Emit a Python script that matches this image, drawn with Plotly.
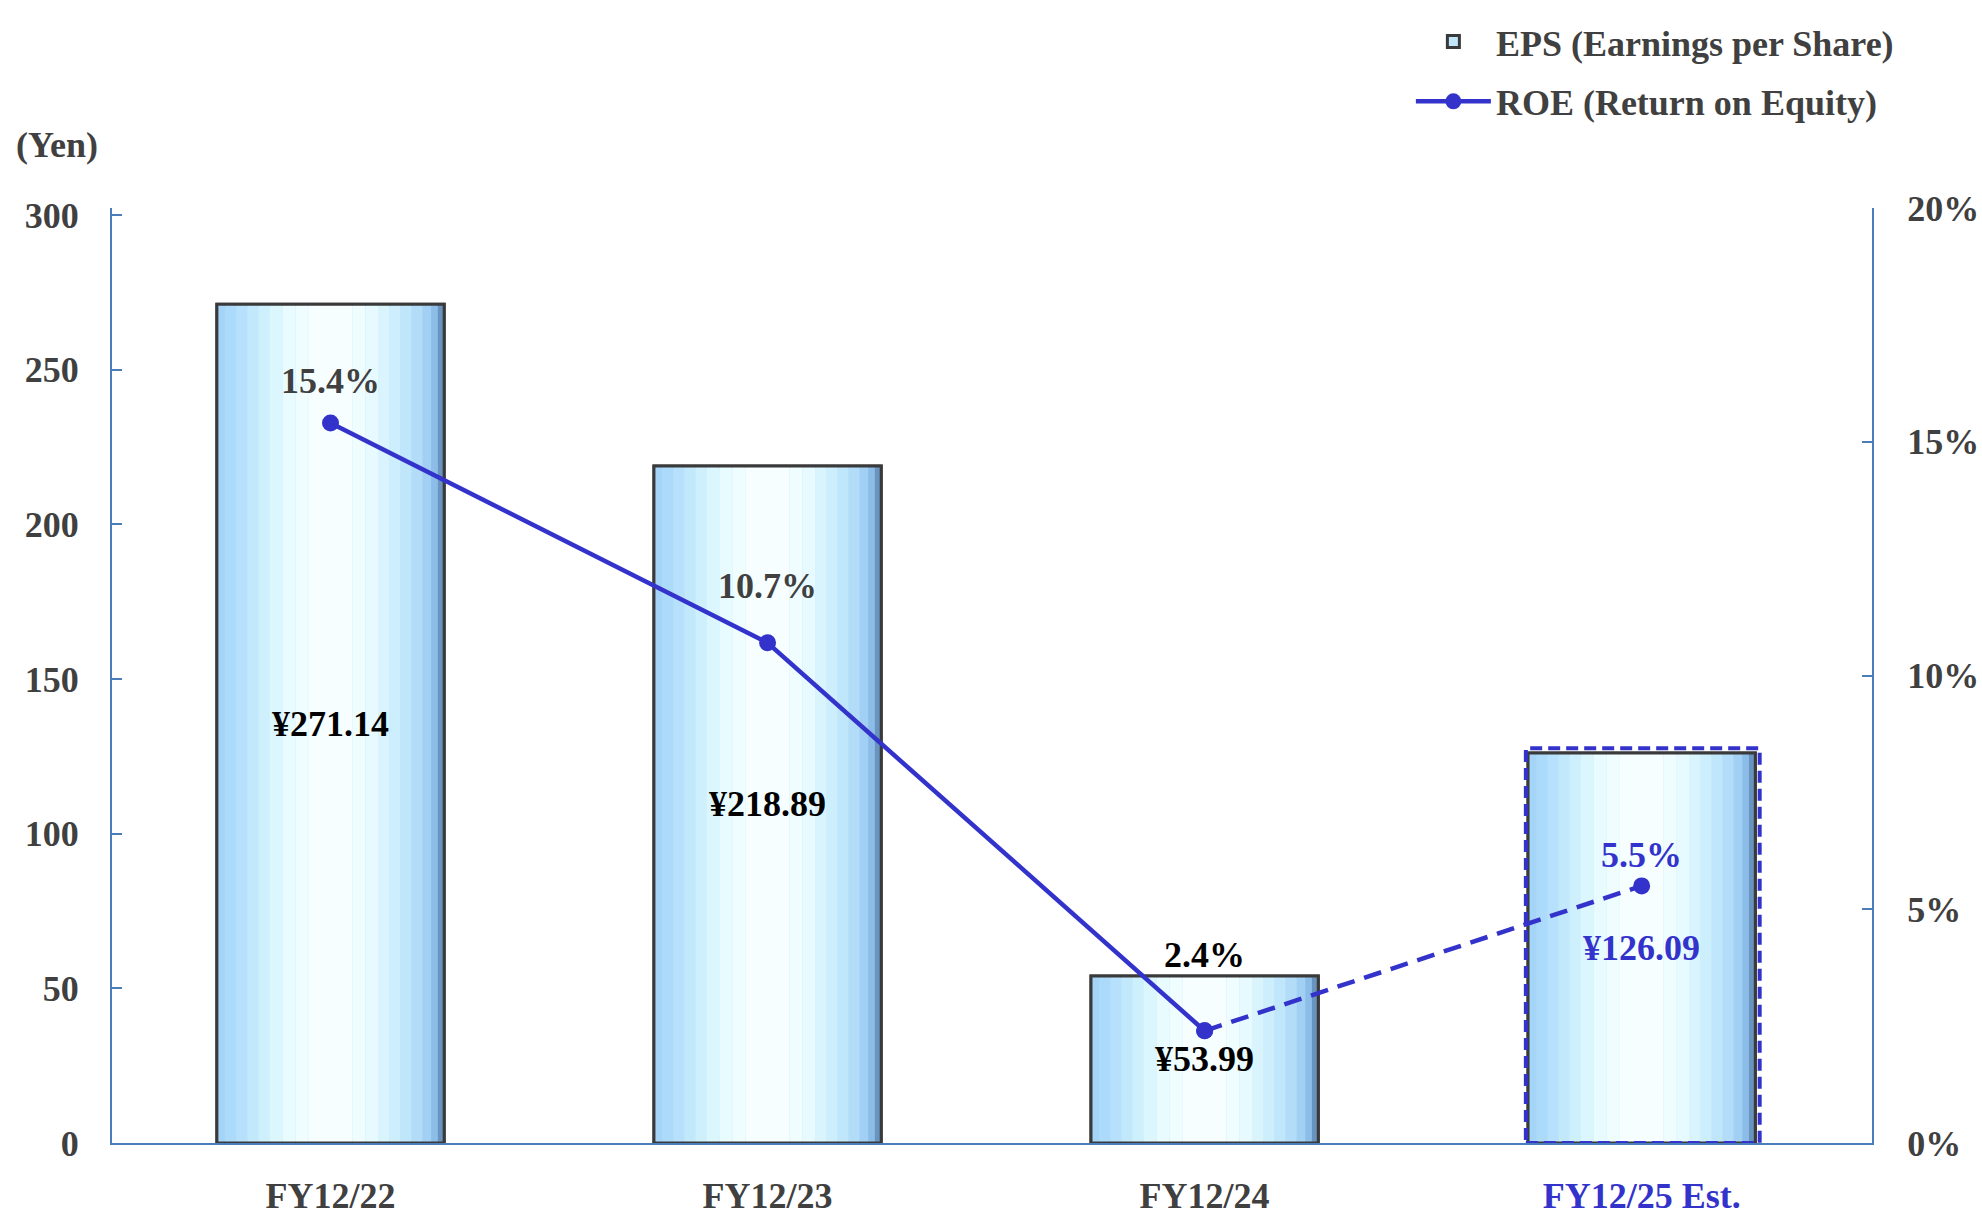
import plotly.graph_objects as go

# ---------------- data ----------------
categories = ["FY12/22", "FY12/23", "FY12/24", "FY12/25 Est."]
eps_values = [271.14, 218.89, 53.99, 126.09]
roe_values = [15.4, 10.7, 2.4, 5.5]
left_ticks = [0, 50, 100, 150, 200, 250, 300]
right_ticks = [0, 5, 10, 15, 20]

# ---------------- style ----------------
FONT = "Liberation Serif"
GRAY = "#404040"
BLUE = "#3333cc"
AXIS = "#4a7ebb"
FS = 36
BAR_W = 0.52
# gradient strips across each bar: (left offset, width, colour)
strips = [
    (-0.260, 0.020, "#a4d4f8"),
    (-0.240, 0.025, "#acdafa"),
    (-0.215, 0.025, "#b6e0fb"),
    (-0.190, 0.025, "#c2e8fc"),
    (-0.165, 0.025, "#cef0fd"),
    (-0.140, 0.030, "#dcf6fe"),
    (-0.110, 0.030, "#e8fbff"),
    (-0.080, 0.030, "#f0fdff"),
    (-0.050, 0.100, "#f6feff"),
    (0.050, 0.030, "#f0fdff"),
    (0.080, 0.030, "#e6faff"),
    (0.110, 0.025, "#daf4fe"),
    (0.135, 0.025, "#cdeefd"),
    (0.160, 0.025, "#c0e6fb"),
    (0.185, 0.025, "#b2dcf8"),
    (0.210, 0.020, "#a2d0f4"),
    (0.230, 0.015, "#8cbce8"),
    (0.245, 0.015, "#6a94c0"),
]
pct_colors = [GRAY, GRAY, "#000000", BLUE]
pct_shift = [42, 57, 76, 31]
yen_colors = ["#000000", "#000000", "#000000", BLUE]

xs = list(range(len(categories)))
fig = go.Figure()

# base bar (outline + legend)
fig.add_trace(go.Bar(
    x=xs, y=eps_values, width=BAR_W, offset=-BAR_W / 2,
    marker=dict(color="#bfe6fb", line=dict(color="#3a3a3a", width=3)),
    name="EPS (Earnings per Share)", showlegend=True, hoverinfo="skip",
    legendgroup="eps",
))
for off, w, c in strips:
    fig.add_trace(go.Bar(
        x=xs, y=eps_values, width=w, offset=off,
        marker=dict(color=c, line=dict(width=0)),
        showlegend=False, hoverinfo="skip", legendgroup="eps",
    ))
# re-draw outline on top
fig.add_trace(go.Bar(
    x=xs, y=eps_values, width=BAR_W, offset=-BAR_W / 2,
    marker=dict(color="rgba(0,0,0,0)", line=dict(color="#3a3a3a", width=3)),
    showlegend=False, hoverinfo="skip", legendgroup="eps",
))

# ROE line: actual (solid) and estimate (dashed)
fig.add_trace(go.Scatter(
    x=xs[2:], y=roe_values[2:], yaxis="y2", mode="lines+markers",
    line=dict(color=BLUE, width=4.5, dash="18px,10px"),
    marker=dict(size=17, color=BLUE), showlegend=False, hoverinfo="skip",
    legendgroup="roe",
))
fig.add_trace(go.Scatter(
    x=xs[:3], y=roe_values[:3], yaxis="y2", mode="lines+markers",
    line=dict(color=BLUE, width=4.5),
    marker=dict(size=17, color=BLUE),
    name="ROE (Return on Equity)", hoverinfo="skip", legendgroup="roe",
))

annotations = []
for i, (v, r) in enumerate(zip(eps_values, roe_values)):
    annotations.append(dict(
        x=xs[i], y=v / 2, xref="x", yref="y", text=f"¥{v:.2f}",
        showarrow=False, font=dict(family=FONT, size=FS, color=yen_colors[i], weight="bold"),
    ))
    annotations.append(dict(
        x=xs[i], y=r, xref="x", yref="y2", text=f"{r:.1f}%", yshift=pct_shift[i],
        showarrow=False, font=dict(family=FONT, size=FS, color=pct_colors[i], weight="bold"),
    ))
annotations.append(dict(
    x=-0.0557, y=1.067, xref="paper", yref="paper", text="(Yen)",
    xanchor="left", yanchor="middle", showarrow=False,
    font=dict(family=FONT, size=FS, color=GRAY, weight="bold"),
))

# dashed frame around estimate bar
est = len(categories) - 1
shapes = [dict(
    type="rect", xref="x", yref="y",
    x0=xs[est] - BAR_W / 2 - 0.005, x1=xs[est] + BAR_W / 2 + 0.01,
    y0=0, y1=eps_values[est] + 1.5,
    line=dict(color=BLUE, width=4, dash="12px,6px"),
)]

ticktext = [c if i < est else f'<span style="color:{BLUE}">{c}</span>'
            for i, c in enumerate(categories)]

fig.update_layout(
    width=1982, height=1216,
    margin=dict(l=112, r=110, t=205, b=73),
    paper_bgcolor="white", plot_bgcolor="white",
    barmode="overlay",
    font=dict(family=FONT, size=FS, color=GRAY, weight="bold"),
    xaxis=dict(
        range=[-0.5, 3.527], tickvals=xs, ticktext=ticktext, automargin=False,
        showline=True, linecolor=AXIS, linewidth=2, ticks="",
        showgrid=False, zeroline=False, ticklabelstandoff=20,
        tickfont=dict(family=FONT, size=FS, color=GRAY, weight="bold"),
    ),
    yaxis=dict(
        range=[0, 302.26], tickvals=left_ticks, automargin=False,
        showline=True, linecolor=AXIS, linewidth=2,
        ticks="inside", ticklen=10, tickcolor=AXIS, tickwidth=2,
        showgrid=False, zeroline=False, ticklabelstandoff=24,
        tickfont=dict(family=FONT, size=FS, color=GRAY, weight="bold"),
    ),
    yaxis2=dict(
        range=[0, 20], tickvals=right_ticks, automargin=False,
        ticktext=[f"{t}%" for t in right_ticks],
        overlaying="y", side="right",
        showline=True, linecolor=AXIS, linewidth=2,
        ticks="inside", ticklen=10, tickcolor=AXIS, tickwidth=2,
        showgrid=False, zeroline=False, ticklabelstandoff=26,
        tickfont=dict(family=FONT, size=FS, color=GRAY, weight="bold"),
    ),
    legend=dict(
        x=0.738, y=1.21, xanchor="left", yanchor="top",
        bgcolor="rgba(0,0,0,0)",
        font=dict(family=FONT, size=FS, color=GRAY, weight="bold"),
        traceorder="grouped", tracegroupgap=10, itemwidth=75,
    ),
    annotations=annotations,
    shapes=shapes,
    showlegend=True,
)

fig.write_html("out.html")
